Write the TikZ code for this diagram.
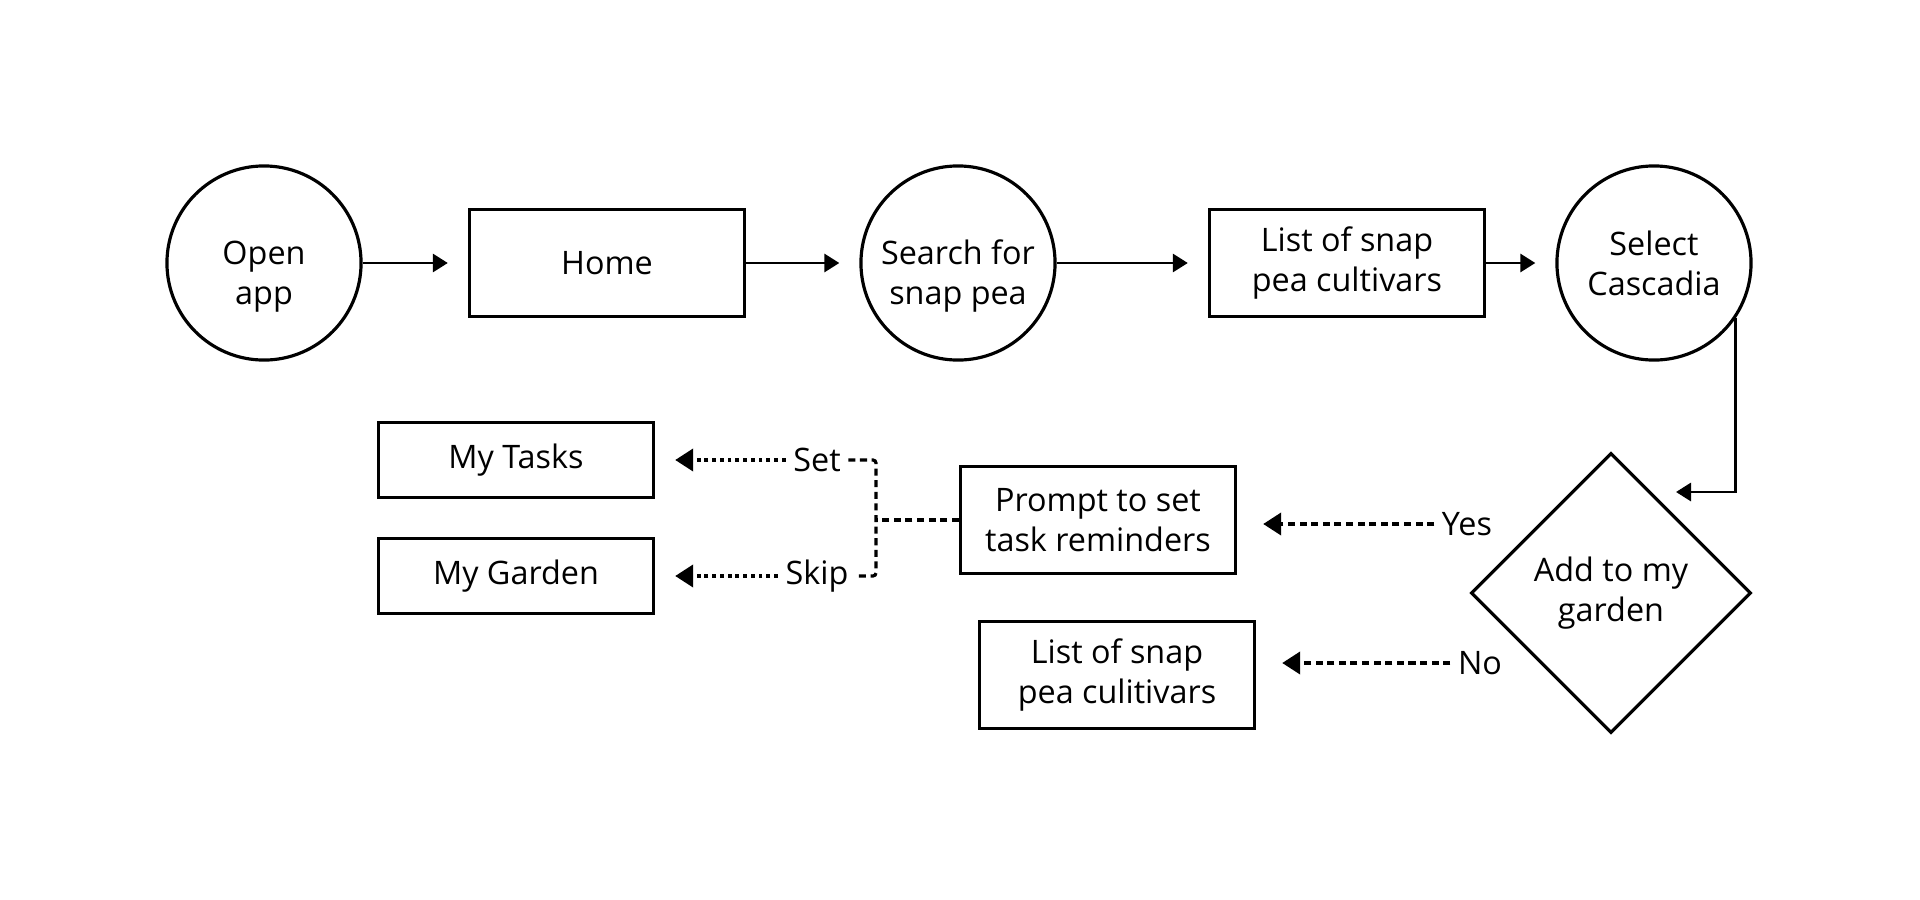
\documentclass[tikz,border=0pt]{standalone}
\usepackage{fontspec}
\setmainfont{Open Sans}
\usetikzlibrary{arrows.meta,shapes.geometric}

\begin{document}
\begin{tikzpicture}[x=0.01cm, y=-0.01cm,
	every node/.style={font=\fontsize{9.2}{11.4}\selectfont, align=center},
	box/.style={draw, line width=0.9pt, minimum width=2.75cm, minimum height=1.07cm, inner sep=0pt},
	smallbox/.style={box, minimum height=0.75cm},
	disc/.style={draw, circle, line width=0.9pt, minimum size=1.94cm, inner sep=0pt},
	lowdisc/.style={disc, text height=26pt},
	decision/.style={draw, diamond, line width=0.9pt, minimum width=2.8cm, minimum height=2.8cm, inner sep=0pt},
	tag/.style={inner xsep=0.07cm, inner ysep=0pt},
	flow/.style={line width=0.85pt, -{Triangle[length=0.15cm, width=0.18cm]}, shorten >=0.2cm},
	choice/.style={line width=1.1pt, dash pattern=on 2pt off 1.3pt, -{Triangle[length=0.18cm, width=0.22cm]}, shorten >=0.26cm},
	pick/.style={line width=1.1pt, dash pattern=on 1.1pt off 1.1pt, -{Triangle[length=0.18cm, width=0.22cm]}, shorten >=0.2cm},
	branch/.style={line width=0.9pt, dash pattern=on 2pt off 1.3pt}
]

% frame %{{{1

	\useasboundingbox (0,0) rectangle (1920,900);

% nodes, top row %{{{1

	\node[lowdisc] (open) at (264,263) {Open\\app};
	\node[box] (home) at (607,263) {Home};
	\node[lowdisc] (search) at (958,263) {Search for\\snap pea};
	\node[box] (list) at (1347,263) {List of snap\\pea cultivars};
	\node[disc] (select) at (1654,263) {Select\\Cascadia};

% nodes, bottom rows %{{{1

	\node[decision] (add) at (1611,593) {Add to my\\garden};
	\node[box] (prompt) at (1098,520) {Prompt to set\\task reminders};
	\node[box] (other) at (1117,675) {List of snap\\pea culitivars};
	\node[smallbox] (tasks) at (516,460) {My Tasks};
	\node[smallbox] (garden) at (516,576) {My Garden};

% answer labels %{{{1

	\node[tag] (yes) at (1467,524) {Yes};
	\node[tag] (no) at (1480,663) {No};
	\node[tag] (set) at (817,460) {Set};
	\node[tag] (skip) at (817,576) {Skip};

	\coordinate (addin) at (1676,492);
	\coordinate (fork) at (876,520);

% connectors %{{{1

	\draw[flow] (open) -- (home);
	\draw[flow] (home) -- (search);
	\draw[flow] (search) -- (list);
	\draw[flow] (list) -- (select);
	\draw[flow, shorten >=0pt] (select.-34.5) |- (addin);

	\draw[choice] (yes.west) -- (yes.west -| prompt.east);
	\draw[choice] (no.west) -- (no.west -| other.east);

	\draw[branch] (prompt.west) -- (fork);
	\draw[branch, rounded corners=0.03cm] (set.east) -| (fork) |- (skip.east);

	\draw[pick] (set.west) -- (set.west -| tasks.east);
	\draw[pick] (skip.west) -- (skip.west -| garden.east);

% closing %{{{1

\end{tikzpicture}
\end{document}
